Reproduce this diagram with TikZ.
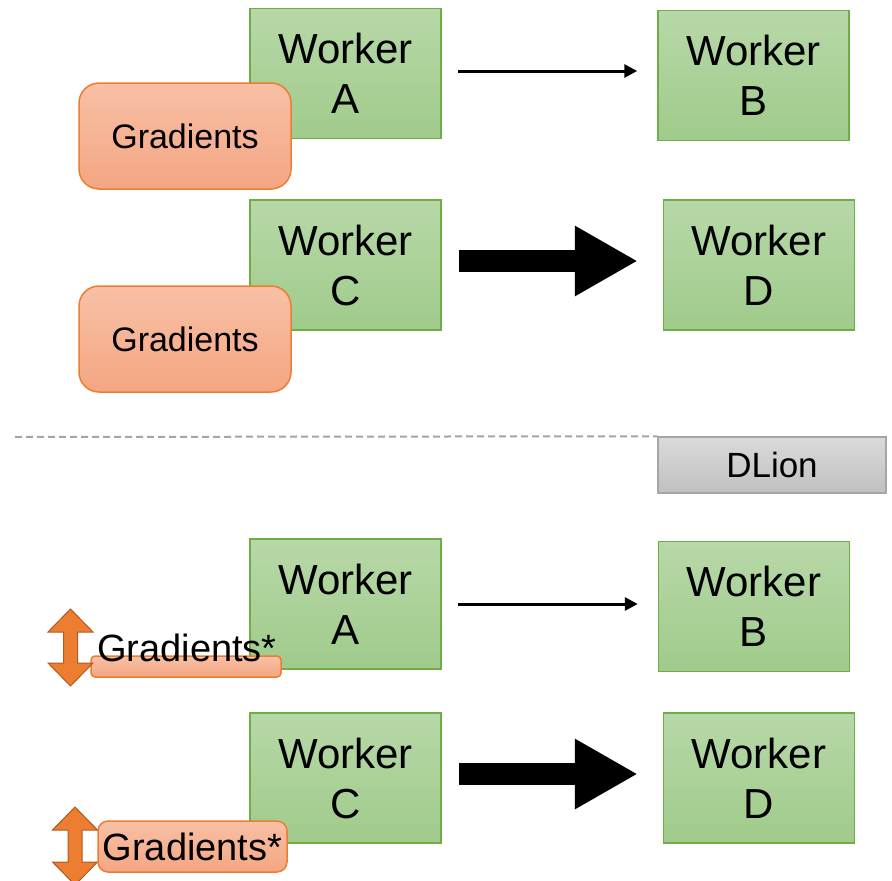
\documentclass[tikz,border=0pt]{standalone}
\usepackage{fontspec}
\setmainfont{Liberation Sans}
\usetikzlibrary{arrows.meta}

\definecolor{workerline}{RGB}{112,173,71}
\definecolor{workertop}{RGB}{183,216,168}
\definecolor{workerbot}{RGB}{160,203,139}
\definecolor{gradline}{RGB}{237,125,49}
\definecolor{gradtop}{RGB}{248,192,166}
\definecolor{gradbot}{RGB}{244,166,130}
\definecolor{updownfill}{RGB}{237,125,49}
\definecolor{updownline}{RGB}{174,90,33}
\definecolor{dliontop}{RGB}{218,218,218}
\definecolor{dlionbot}{RGB}{192,192,192}
\definecolor{dlionline}{RGB}{165,165,165}

% up/down arrow next to a gradient label: centre x, top y, bottom y
\newcommand{\gradarrow}[3]{%
  \filldraw[updown] (#1,#2) -- ({#1+22.5},{#2+23}) -- ({#1+7},{#2+23}) -- ({#1+7},{#3-23})
    -- ({#1+22.5},{#3-23}) -- (#1,#3) -- ({#1-22.5},{#3-23}) -- ({#1-7},{#3-23})
    -- ({#1-7},{#2+23}) -- ({#1-22.5},{#2+23}) -- cycle;}

\begin{document}
\begin{tikzpicture}[
    x=1pt, y=-1pt,
    worker/.style={draw=workerline, line width=1.5pt, top color=workertop, bottom color=workerbot,
        minimum width=191pt, minimum height=130pt, inner sep=0pt, align=center,
        font=\fontsize{42}{50}\selectfont},
    gradbox/.style={draw=gradline, line width=1.5pt, top color=gradtop, bottom color=gradbot,
        rounded corners=20pt, minimum width=212pt, minimum height=106pt, inner sep=0pt,
        font=\fontsize{34}{40}\selectfont},
    gradsmall/.style={draw=gradline, line width=1.5pt, top color=gradtop, bottom color=gradbot,
        rounded corners=#1, inner sep=0pt, font=\fontsize{38}{44}\selectfont},
    gradsmall/.default=4pt,
    updown/.style={fill=updownfill, draw=updownline, line width=1pt},
    thinarrow/.style={line width=3pt, -{Triangle[length=13pt, width=13pt]}, shorten <=16pt, shorten >=20pt},
    fatarrow/.style={line width=22pt, -{Triangle[length=63pt, width=66pt]}, shorten <=17pt, shorten >=25pt}
]
\useasboundingbox (0,0) rectangle (892,881);

% upper half
\node (worker_a_top) [worker] at (345.5,73.5) {Worker\\A};
\node (worker_b_top) [worker] at (753.5,75.5) {Worker\\B};
\node (worker_c_top) [worker] at (345.5,265) {Worker\\C};
\node (worker_d_top) [worker] at (759,265) {Worker\\D};
\node (grad_a_top) [gradbox] at (185,136) {Gradients};
\node (grad_c_top) [gradbox] at (185,339) {Gradients};

\draw[thinarrow] ([yshift=2.5pt]worker_a_top.east) -- ([yshift=2.5pt]worker_a_top.east -| worker_b_top.west);
\draw[fatarrow] ([yshift=4pt]worker_c_top.east) -- ([yshift=4pt]worker_c_top.east -| worker_d_top.west);

% separator
\node (dlion) [draw=dlionline, line width=1.5pt, top color=dliontop, bottom color=dlionbot,
    minimum width=228pt, minimum height=56pt, inner sep=0pt, font=\fontsize{35}{40}\selectfont] at (772,465) {DLion};
\coordinate (rule_start) at (15,437);
\draw[dlionline, line width=2pt, dash pattern=on 7pt off 4pt] (rule_start) -- (dlion.north west);

% lower half
\node (worker_a_bot) [worker] at (345.5,604) {Worker\\A};
\node (worker_b_bot) [worker] at (754,606.5) {Worker\\B};
\node (worker_c_bot) [worker] at (345.5,778) {Worker\\C};
\node (worker_d_bot) [worker] at (759,778) {Worker\\D};

\draw[thinarrow] (worker_a_bot.east) -- (worker_a_bot.east -| worker_b_bot.west);
\draw[fatarrow] ([yshift=4pt]worker_c_bot.east) -- ([yshift=4pt]worker_c_bot.east -| worker_d_bot.west);

\node (grad_a_bot) [gradsmall, minimum width=190pt, minimum height=21pt] at (186,666.5) {};
\node (grad_a_bot_text) [inner sep=0pt, font=\fontsize{38}{44}\selectfont] at (187,648) {Gradients*};
\gradarrow{70.5}{609}{686}
\node (grad_c_bot) [gradsmall=10pt, minimum width=189pt, minimum height=51pt] at (192.5,846.5) {Gradients*};
\gradarrow{75}{807}{885}
\end{tikzpicture}
\end{document}
